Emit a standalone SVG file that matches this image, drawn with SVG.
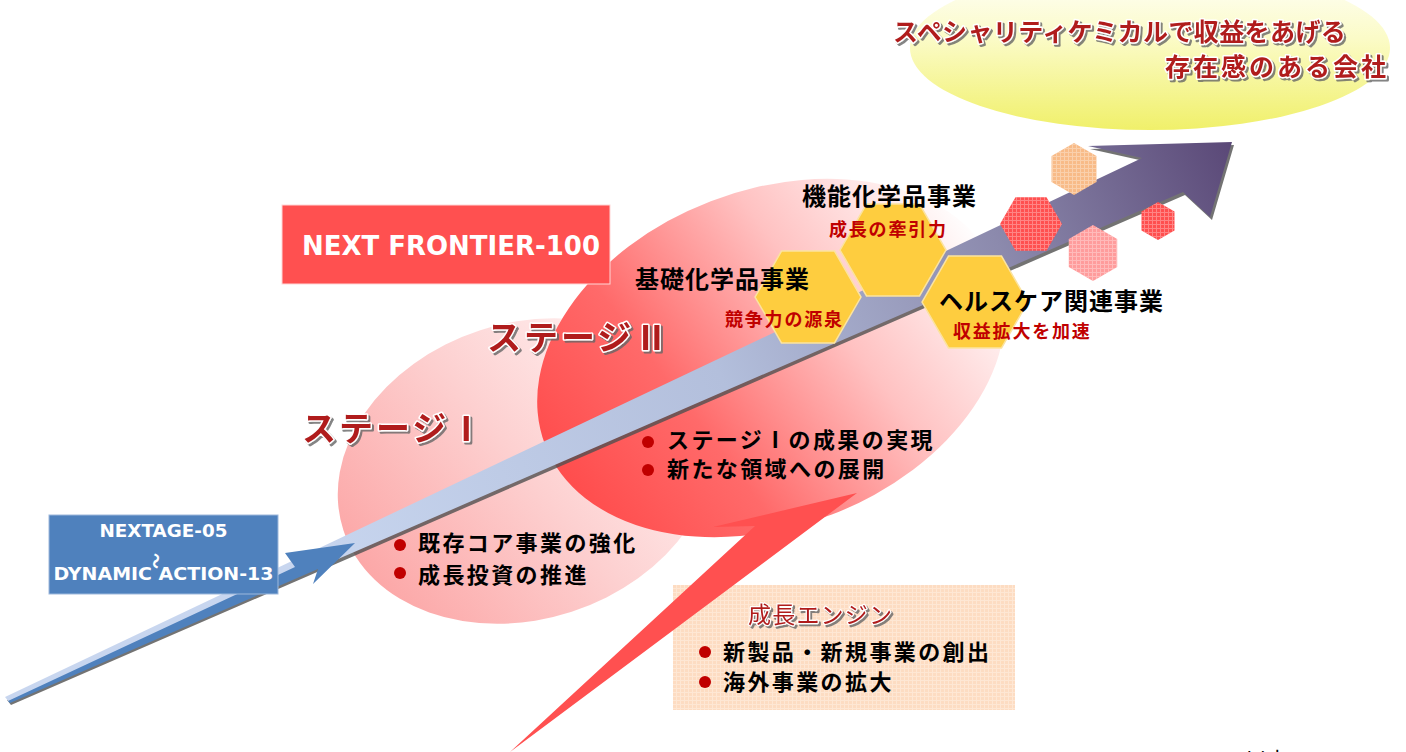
<svg xmlns="http://www.w3.org/2000/svg" width="1406" height="752" viewBox="0 0 1406 752">
<defs>
  <linearGradient id="gTop" x1="0" y1="0" x2="0" y2="1">
    <stop offset="0" stop-color="#ffffff"/>
    <stop offset="0.45" stop-color="#fbfbc6"/>
    <stop offset="1" stop-color="#f0f06a"/>
  </linearGradient>
  <linearGradient id="gS1" x1="0" y1="0.65" x2="1" y2="0.35">
    <stop offset="0" stop-color="#fca6a6"/>
    <stop offset="0.5" stop-color="#fdd0d0"/>
    <stop offset="1" stop-color="#fff6f6"/>
  </linearGradient>
  <linearGradient id="gS2" x1="0" y1="0.6" x2="1" y2="0.4">
    <stop offset="0" stop-color="#ff4c4c"/>
    <stop offset="0.3" stop-color="#ff6a6a"/>
    <stop offset="0.65" stop-color="#ffc2c2"/>
    <stop offset="1" stop-color="#ffffff"/>
  </linearGradient>
  <linearGradient id="gArrow" gradientUnits="userSpaceOnUse" x1="300" y1="560" x2="1232" y2="142">
    <stop offset="0" stop-color="#c8d6ef"/>
    <stop offset="0.45" stop-color="#b3bfdc"/>
    <stop offset="0.75" stop-color="#8c8aad"/>
    <stop offset="1" stop-color="#5a4877"/>
  </linearGradient>
  <pattern id="grid" width="4" height="4" patternUnits="userSpaceOnUse">
    <path d="M0 0.5H4M0.5 0V4" stroke="#ffffff" stroke-width="1" opacity="0.3"/>
  </pattern>
  <filter id="sh" x="-5%" y="-20%" width="115%" height="160%">
    <feDropShadow dx="2" dy="2" stdDeviation="0.6" flood-color="#666666" flood-opacity="0.8"/>
  </filter>
  <style>
    .jp{font-family:"Noto Sans CJK JP",sans-serif;}
    .lbl{font-size:24px;font-weight:700;fill:#000;letter-spacing:1px}
    .sub{font-size:18px;font-weight:700;fill:#c00000;letter-spacing:1.8px}
    .bul{font-size:22px;font-weight:700;fill:#000;letter-spacing:2.4px}
    .emb{fill:#b01e1e;stroke:#fff;stroke-width:3;paint-order:stroke;stroke-linejoin:round;filter:url(#sh)}
    .stg{font-size:34px;font-weight:700;letter-spacing:3px}
    .ttl{font-size:25px;font-weight:700}
    .en{font-family:"DejaVu Sans",sans-serif;font-weight:700;fill:#fff}
    .dot{fill:#c00000}
    .hexY{fill:#fecd3f;stroke:#fbe3a0;stroke-width:1.5}
  </style>
</defs>
<rect width="1406" height="752" fill="#ffffff"/>

<g id="goal">
  <ellipse cx="1150" cy="48" rx="240" ry="82" fill="url(#gTop)"/>
  <text class="jp ttl emb" x="893" y="41" style="letter-spacing:0.4px">スペシャリティケミカルで収益をあげる</text>
  <text class="jp ttl emb" x="1165" y="76" style="letter-spacing:3px">存在感のある会社</text>
</g>

<g id="stage1">
  <ellipse cx="526" cy="471" rx="192" ry="148" transform="rotate(-18 526 471)" fill="url(#gS1)"/>
</g>
<g id="stage2">
  <ellipse cx="771" cy="358" rx="242" ry="168" transform="rotate(-21 771 358)" fill="url(#gS2)"/>
</g>

<g id="nf100">
  <rect x="282" y="205" width="328" height="79" fill="#ff5050" stroke="#ffd6d6" stroke-width="1"/>
  <text class="en" x="302" y="255" font-size="26" textLength="298" lengthAdjust="spacingAndGlyphs">NEXT FRONTIER-100</text>
</g>

<g id="stage-titles">
  <text class="jp stg emb" x="302" y="441">ステージⅠ</text>
  <text class="jp stg emb" x="487" y="350">ステージⅡ</text>
</g>

<g id="engine">
  <rect x="673" y="585" width="342" height="125" fill="#fddcc2"/>
  <rect x="673" y="585" width="342" height="125" fill="url(#grid)"/>
  <text class="jp emb" x="748" y="623" font-size="23" style="letter-spacing:1.2px;stroke-width:2.5">成長エンジン</text>
  <circle class="dot" cx="705" cy="652" r="6"/>
  <text class="jp bul" x="723" y="660">新製品・新規事業の創出</text>
  <circle class="dot" cx="705" cy="682" r="6"/>
  <text class="jp bul" x="723" y="690">海外事業の拡大</text>
</g>

<g id="connectors">
  <polygon id="red-arrow" points="510,752 755,526 713,527 857,493" fill="#ff5050"/>
  <polygon points="5,697 1142,158 1088,146 1232,142 1210,217 1183,192 9,702" transform="translate(2,3)" fill="#505050" opacity="0.8"/>
  <polygon id="main-arrow" points="5,697 1142,158 1088,146 1232,142 1210,217 1183,192 9,702" fill="url(#gArrow)"/>
  <polygon id="blue-arrow" points="8,701 295,567 285,553 355,543 313,584 318,569 10,703" fill="#4f81bd"/>
</g>

<g id="nextage">
  <rect x="49" y="515" width="229" height="79" fill="#4f81bd" stroke="#9db8dc" stroke-width="1"/>
  <text class="en" x="163.5" y="537" font-size="17" text-anchor="middle" textLength="128" lengthAdjust="spacingAndGlyphs">NEXTAGE-05</text>
  <text class="jp" x="0" y="0" font-size="16" font-weight="700" fill="#fff" transform="translate(150,553) rotate(90)">〜</text>
  <text class="en" x="163.5" y="580" font-size="18" text-anchor="middle" textLength="220" lengthAdjust="spacingAndGlyphs">DYNAMIC ACTION-13</text>
</g>

<g id="deco-hexes">
  <polygon points="1074,143 1096.5,156 1096.5,182 1074,195 1051.5,182 1051.5,156" fill="#f8bb88"/>
  <polygon points="1000,224 1015.5,197.2 1046.5,197.2 1062,224 1046.5,250.8 1015.5,250.8" fill="#ff5050"/>
  <polygon points="1093,225 1117.2,239 1117.2,267 1093,281 1068.8,267 1068.8,239" fill="#ff9c9c"/>
  <polygon points="1158,202 1174.5,211.5 1174.5,230.5 1158,240 1141.5,230.5 1141.5,211.5" fill="#ff4f4f"/>
  <g fill="url(#grid)">
    <polygon points="1074,143 1096.5,156 1096.5,182 1074,195 1051.5,182 1051.5,156"/>
    <polygon points="1000,224 1015.5,197.2 1046.5,197.2 1062,224 1046.5,250.8 1015.5,250.8"/>
    <polygon points="1093,225 1117.2,239 1117.2,267 1093,281 1068.8,267 1068.8,239"/>
    <polygon points="1158,202 1174.5,211.5 1174.5,230.5 1158,240 1141.5,230.5 1141.5,211.5"/>
  </g>
</g>

<g id="functional">
  <polygon class="hexY" points="840,250 866.5,204.1 919.5,204.1 946,250 919.5,295.9 866.5,295.9"/>
  <text class="jp lbl" x="802" y="205">機能化学品事業</text>
  <text class="jp sub" x="829" y="236">成長の牽引力</text>
</g>
<g id="basic">
  <polygon class="hexY" points="755,297 781.5,251.1 834.5,251.1 861,297 834.5,342.9 781.5,342.9"/>
  <text class="jp lbl" x="635" y="288">基礎化学品事業</text>
  <text class="jp sub" x="725" y="326">競争力の源泉</text>
</g>
<g id="healthcare">
  <polygon class="hexY" points="922,302 948.5,256.1 1001.5,256.1 1028,302 1001.5,347.9 948.5,347.9"/>
  <text class="jp lbl" x="939" y="310">ヘルスケア関連事業</text>
  <text class="jp sub" x="953" y="338">収益拡大を加速</text>
</g>

<g id="stage2-bullets">
  <circle class="dot" cx="648" cy="442" r="6"/>
  <text class="jp bul" x="667" y="448">ステージⅠの成果の実現</text>
  <circle class="dot" cx="648" cy="470" r="6"/>
  <text class="jp bul" x="667" y="477">新たな領域への展開</text>
</g>
<g id="stage1-bullets">
  <circle class="dot" cx="400" cy="545" r="6"/>
  <text class="jp bul" x="418" y="551">既存コア事業の強化</text>
  <circle class="dot" cx="400" cy="573" r="6"/>
  <text class="jp bul" x="418" y="583">成長投資の推進</text>
</g>

<text x="1245" y="768" font-size="22" font-family="Liberation Serif, Noto Sans CJK JP, serif" fill="#000">以上</text>
</svg>
